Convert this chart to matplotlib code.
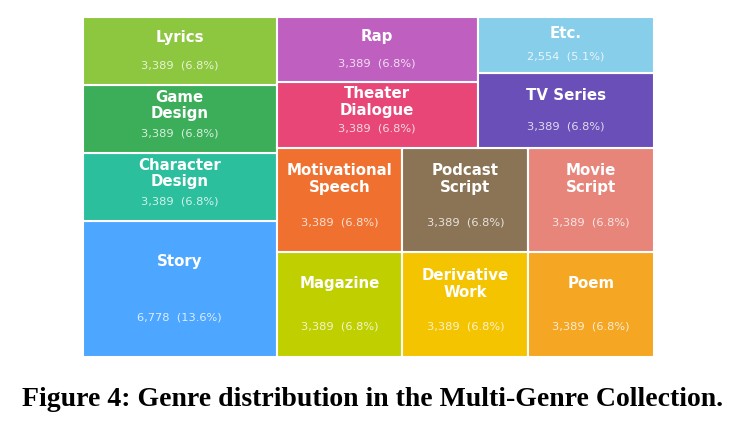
import matplotlib.pyplot as plt
from matplotlib.patches import Rectangle

# genres in the order the treemap was laid out (squarify order)
genres = ['Story', 'Character\nDesign', 'Game\nDesign', 'Lyrics',
          'Magazine', 'Derivative\nWork', 'Poem',
          'Motivational\nSpeech', 'Podcast\nScript', 'Movie\nScript',
          'Theater\nDialogue', 'Rap', 'TV Series', 'Etc.']
counts = [6778, 3389, 3389, 3389, 3389, 3389, 3389,
          3389, 3389, 3389, 3389, 3389, 3389, 2554]
colors = ['#4da6ff', '#2bbf9e', '#3cae5a', '#8dc63f',
          '#bfcf00', '#f5c400', '#f5a623',
          '#f07030', '#8b7355', '#e8857a',
          '#e84677', '#bf5fc0', '#6a4fb8', '#87ceeb']


def worst(row, side):
    s = sum(row)
    return max(max(side * side * r / (s * s), s * s / (side * side * r)) for r in row)


def layout(sizes, x, y, w, h):
    # plain squarified treemap
    rects = []
    sizes = list(sizes)
    while sizes:
        side = min(w, h)
        row = [sizes[0]]
        i = 1
        while i < len(sizes) and worst(row + [sizes[i]], side) <= worst(row, side):
            row.append(sizes[i])
            i += 1
        sizes = sizes[i:]
        s = sum(row)
        if w >= h:
            cw = s / h
            yy = y
            for r in row:
                rects.append((x, yy, cw, r / cw))
                yy += r / cw
            x += cw
            w -= cw
        else:
            rh = s / w
            xx = x
            for r in row:
                rects.append((xx, y, r / rh, rh))
                xx += r / rh
            y += rh
            h -= rh
    return rects


total = sum(counts)
norm = [c * 100 * 100 / total for c in counts]
rects = layout(norm, 0, 0, 100, 100)

fig = plt.figure(figsize=(7.45, 4.3), dpi=100)
ax = fig.add_axes([83 / 745, 1 - 357 / 430, 571 / 745, 340 / 430])
ax.set_xlim(0, 100)
ax.set_ylim(0, 100)
ax.axis('off')

for (x, y, w, h), g, c, col in zip(rects, genres, counts, colors):
    ax.add_patch(Rectangle((x, y), w, h, facecolor=col, edgecolor='white', linewidth=1.5))
    ax.text(x + w / 2, y + h * 0.70, g, ha='center', va='center', color='white',
            fontsize=10.8, fontweight='bold', linespacing=1.15)
    ax.text(x + w / 2, y + h * 0.29, f'{c:,}  ({c / total * 100:.1f}%)', ha='center',
            va='center', color='white', alpha=0.8, fontsize=8.2)

fig.text(0.5, 1 - 399 / 430, 'Figure 4: Genre distribution in the Multi-Genre Collection.',
         ha='center', va='center', fontsize=20, fontweight='bold', family='Liberation Serif')

fig.savefig('out.png', dpi=100)
